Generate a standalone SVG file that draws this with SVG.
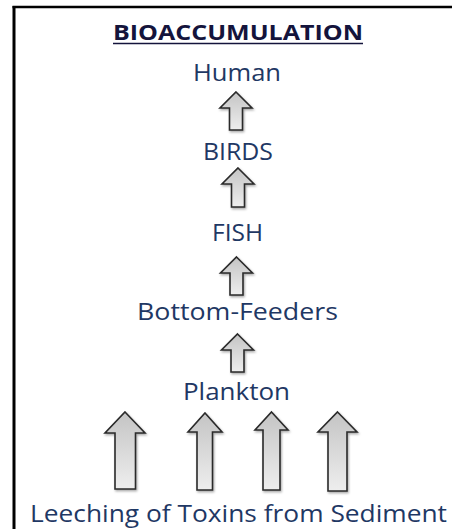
<svg xmlns="http://www.w3.org/2000/svg" width="452" height="529" viewBox="0 0 452 529">
<style>
.lbl{font-family:"Open Sans","Noto Sans","Liberation Sans",sans-serif;font-size:24px;fill:#1F3864;text-anchor:middle}
.ttl{font-family:"Open Sans","Noto Sans","Liberation Sans",sans-serif;font-size:21px;font-weight:bold;fill:#14143C;text-anchor:middle}
.arr{fill:url(#g);stroke:#2a2a2a;stroke-width:1.6;stroke-linejoin:miter}
</style>
<defs>
<linearGradient id="g" x1="0" y1="0" x2="0" y2="1">
<stop offset="0" stop-color="#c4c4c4"/>
<stop offset="1" stop-color="#eeeeee"/>
</linearGradient>
<filter id="sh" x="-30%" y="-30%" width="160%" height="160%">
<feDropShadow dx="1" dy="1.5" stdDeviation="1.2" flood-color="#000" flood-opacity="0.35"/>
</filter>
</defs>
<g id="frame">
<line x1="14" y1="6" x2="14" y2="529" stroke="#000" stroke-width="3"/>
<line x1="12.5" y1="7" x2="452" y2="7" stroke="#000" stroke-width="2.5"/>
</g>
<g id="title">
<text class="ttl" x="238" y="40" textLength="250" lengthAdjust="spacingAndGlyphs">BIOACCUMULATION</text>
<line x1="113" y1="43.5" x2="363" y2="43.5" stroke="#14143C" stroke-width="1.5"/>
</g>
<g id="human"><text class="lbl" x="237" y="81" textLength="88" lengthAdjust="spacingAndGlyphs">Human</text></g>
<g id="birds"><text class="lbl" x="238" y="160" textLength="70" lengthAdjust="spacingAndGlyphs">BIRDS</text></g>
<g id="fish"><text class="lbl" x="237.5" y="241" textLength="51" lengthAdjust="spacingAndGlyphs">FISH</text></g>
<g id="bottom-feeders"><text class="lbl" x="237.5" y="320" textLength="201" lengthAdjust="spacingAndGlyphs">Bottom-Feeders</text></g>
<g id="plankton"><text class="lbl" x="236.5" y="400" textLength="107" lengthAdjust="spacingAndGlyphs">Plankton</text></g>
<g id="sediment"><text class="lbl" x="238.5" y="522" textLength="417" lengthAdjust="spacingAndGlyphs">Leeching of Toxins from Sediment</text></g>
<g id="connectors" filter="url(#sh)">
<path class="arr" d="M236,92 L252,108 L242.5,108 L242.5,130 L229.5,130 L229.5,108 L220,108 Z"/>
<path class="arr" d="M238,168 L254,184 L244.5,184 L244.5,207 L231.5,207 L231.5,184 L222,184 Z"/>
<path class="arr" d="M236.5,257 L252.5,273 L243,273 L243,295 L230,295 L230,273 L220.5,273 Z"/>
<path class="arr" d="M237.5,334 L253.5,350 L244,350 L244,372 L231,372 L231,350 L221.5,350 Z"/>
<path class="arr" d="M125,412 L145,433 L135.5,433 L135.5,489 L115,489 L115,433 L105,433 Z"/>
<path class="arr" d="M205,413 L222,432 L212.5,432 L212.5,490 L197,490 L197,432 L188,432 Z"/>
<path class="arr" d="M271.5,412 L288,430 L280,430 L280,490 L263,490 L263,430 L255,430 Z"/>
<path class="arr" d="M337.5,412 L357,432 L347,432 L347,491 L328,491 L328,432 L318,432 Z"/>
</g>
</svg>
